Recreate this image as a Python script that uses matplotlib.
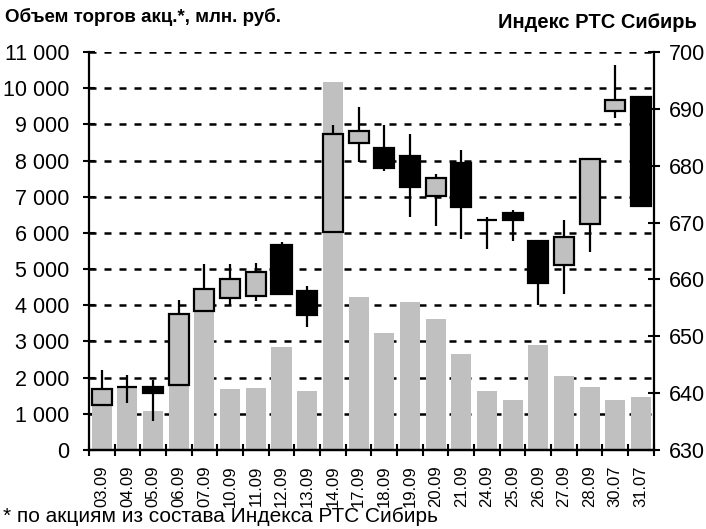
import numpy as np
import matplotlib
matplotlib.use("Agg")
import matplotlib.pyplot as plt

plt.rcParams['font.family'] = ['Liberation Sans', 'DejaVu Sans']

dates = ['03.09', '04.09', '05.09', '06.09', '07.09', '10.09', '11.09', '12.09',
         '13.09', '14.09', '17.09', '18.09', '19.09', '20.09', '21.09', '24.09',
         '25.09', '26.09', '27.09', '28.09', '30.07', '31.07']

# объем торгов, млн. руб.
volume = [1600, 1750, 1090, 1900, 3900, 1690, 1710, 2840, 1630, 10170, 4230,
          3230, 4090, 3620, 2650, 1630, 1380, 2900, 2040, 1740, 1380, 1460]

# индекс РТС Сибирь
open_ = [637.9, 641.1, 641.1, 641.4, 654.5, 656.7, 657.1, 666.0, 658.0, 668.4, 684.0,
         683.2, 681.7, 674.6, 680.5, 670.4, 671.6, 666.7, 662.5, 669.8, 689.7, 692.0]
high = [644.0, 643.2, 642.3, 656.4, 662.8, 662.7, 662.9, 666.5, 658.9, 687.1, 690.3,
        687.1, 685.5, 678.5, 682.7, 671.0, 672.3, 666.7, 670.4, 681.2, 697.7, 692.1]
low = [637.9, 638.2, 635.1, 641.4, 654.5, 655.5, 656.2, 657.5, 651.7, 668.4, 680.6,
       679.0, 671.0, 669.4, 667.2, 665.3, 666.7, 655.5, 657.4, 664.9, 688.4, 673.0]
close = [640.7, 641.1, 640.1, 654.0, 658.4, 660.0, 661.3, 657.5, 653.7, 685.5, 686.1,
         679.6, 676.2, 677.9, 672.7, 670.4, 670.4, 659.4, 667.4, 681.2, 691.6, 673.0]

gray = '#c0c0c0'
x = np.arange(len(dates))

fig = plt.figure(figsize=(7.06, 5.29), dpi=100)
ax = fig.add_axes([0.126, 0.1493, 0.8, 0.7524])
ax2 = ax.twinx()

# volume bars
ax.bar(x, volume, width=0.78, color=gray, zorder=2)
ax.set_ylim(0, 11000)
ax.set_yticks(np.arange(0, 11001, 1000))
ax.set_yticklabels(['{:,}'.format(v).replace(',', ' ') for v in range(0, 11001, 1000)])
ax.set_axisbelow(True)
ax.yaxis.grid(True, color='black', linestyle=(0, (2.8, 3.2)), linewidth=1.8)
ax.set_xlim(-0.5, len(dates) - 0.5)
ax.set_xticks(np.arange(len(dates) + 1) - 0.5)
ax.set_xticklabels([])
ax.set_xticks(x, minor=True)
ax.set_xticklabels(dates, minor=True, rotation=90, fontsize=12)
ax.tick_params(axis='x', which='minor', length=0, pad=11)
ax.tick_params(axis='x', which='major', direction='inout', length=8, width=1.5)
ax.tick_params(axis='y', direction='inout', length=8, width=1.5, labelsize=15.5, pad=10)

# candles
up = [c >= o for o, c in zip(open_, close)]
ax2.vlines(x, low, high, color='black', linewidth=1.6, zorder=2)
bottoms = [min(o, c) for o, c in zip(open_, close)]
heights = [abs(c - o) for o, c in zip(open_, close)]
colors = [gray if u and h > 0 else 'black' for u, h in zip(up, heights)]
ax2.bar(x, heights, bottom=bottoms, width=0.78, color=colors, edgecolor='black',
        linewidth=1.6, zorder=3)
ax2.set_ylim(630, 700)
ax2.set_yticks(np.arange(630, 701, 10))
ax2.tick_params(axis='y', direction='inout', length=8, width=1.5, labelsize=15.5, pad=7)

for a in (ax, ax2):
    a.spines['top'].set_visible(False)
    for s in ('left', 'right', 'bottom'):
        a.spines[s].set_linewidth(1.6)
ax.spines['right'].set_visible(False)
ax2.spines['left'].set_visible(False)

fig.text(5 / 706, 1 - 17 / 529, 'Объем торгов акц.*, млн. руб.', fontsize=13.5,
         fontweight='bold', va='center', ha='left')
fig.text(697 / 706, 1 - 22 / 529, 'Индекс РТС Сибирь', fontsize=14.5,
         fontweight='bold', va='center', ha='right')
fig.text(3 / 706, 1 - 517 / 529, '* по акциям из состава Индекса РТС Сибирь',
         fontsize=15, va='center', ha='left')

fig.savefig('out.png', dpi=100)
